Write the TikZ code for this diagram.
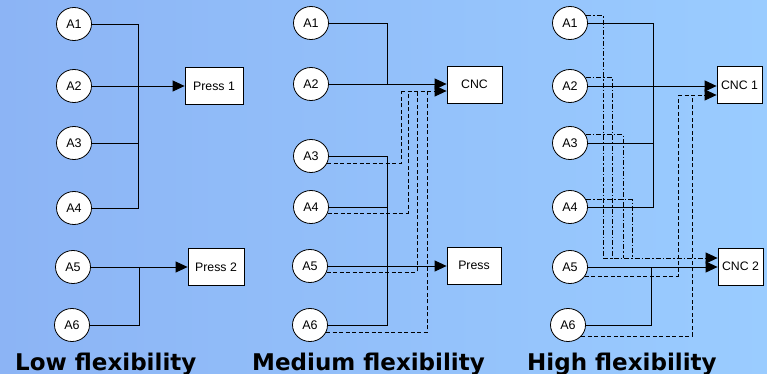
\documentclass[tikz,border=0pt]{standalone}
\usepackage{fontspec}
\usetikzlibrary{arrows.meta,calc,shapes.geometric}
\newfontfamily\labelfont{Liberation Sans}
\newfontfamily\headfont{DejaVu Sans}
\begin{document}
\begin{tikzpicture}[x=1pt,y=-1pt,
  part/.style={ellipse,draw,line width=0.8pt,fill=white,minimum width=35pt,minimum height=33pt,inner sep=0pt,font=\labelfont\fontsize{12.5}{14}\selectfont},
  machine/.style={rectangle,draw,line width=0.8pt,fill=white,minimum height=37pt,inner sep=1pt,font=\labelfont\fontsize{12.3}{14}\selectfont},
  tip/.style={-{Triangle[length=12pt,width=11pt]}},
  link/.style={line width=0.9pt},
  feed/.style={line width=0.9pt,tip},
  alt/.style={line width=0.9pt,dash pattern=on 4pt off 2.5pt},
  altdot/.style={line width=0.9pt,dash pattern=on 5pt off 2pt on 1.5pt off 2pt},
  title/.style={anchor=base west,inner sep=0pt,font=\headfont\bfseries\fontsize{23}{26}\selectfont}]
\useasboundingbox (0,0) rectangle (767,374);
\shade[left color={rgb,255:red,140;green,180;blue,245},right color={rgb,255:red,154;green,204;blue,255}] (0,0) rectangle (767,374);

% ---------- low flexibility ----------
\node[part] (l1) at (74,24) {A1};
\node[part] (l2) at (74,86) {A2};
\node[part] (l3) at (74,143) {A3};
\node[part] (l4) at (74,208) {A4};
\node[part] (l5) at (73,267) {A5};
\node[part] (l6) at (72,325) {A6};
\node[machine,minimum width=58pt] (p1) at (214,86) {Press 1};
\node[machine,minimum width=56pt] (p2) at (216,267) {Press 2};
\coordinate (lj1) at (138,86);
\coordinate (lj2) at (139,267);
\draw[link] (l1.east) -| (lj1);
\draw[link] (l3.east) -| (lj1);
\draw[link] (l4.east) -| (lj1);
\draw[feed] (l2.east) -- (l2.east -| p1.west);
\draw[link] (l6.east) -| (lj2);
\draw[feed] (l5.east) -- (l5.east -| p2.west);

% ---------- medium flexibility ----------
\node[part] (m1) at (311,23) {A1};
\node[part] (m2) at (311,84) {A2};
\node[part] (m3) at (311,156) {A3};
\node[part] (m4) at (311,207) {A4};
\node[part] (m5) at (310,266) {A5};
\node[part] (m6) at (310,325) {A6};
\node[machine,minimum width=55pt] (cnc) at (474.5,84.5) {CNC};
\node[machine,minimum width=54pt] (pr) at (474,265.5) {Press};
\coordinate (mj1) at (387,84);
\coordinate (mj2) at (387,266);
\draw[link] (m1.east) -| (mj1);
\draw[feed] (m2.east) -- (m2.east -| cnc.west);
\draw[link] (m3.east) -| (mj2);
\draw[link] (m4.east) -| (mj2);
\draw[link] (m6.east) -| (mj2);
\draw[feed] (m5.east) -- (m5.east -| pr.west);
\coordinate (md3) at (401,91);
\coordinate (md4) at (408,91);
\coordinate (md5) at (417,91);
\coordinate (md6) at (427,91);
\draw[alt] (m3.-25) -| (md3);
\draw[alt] (m4.-20) -| (md4);
\draw[alt] (m5.-20) -| (md5);
\draw[alt] (m6.-25) -| (md6);
\draw[alt,tip] (md3) -- (md3 -| cnc.west);

% ---------- high flexibility ----------
\node[part] (h1) at (570,23) {A1};
\node[part] (h2) at (570,86) {A2};
\node[part] (h3) at (570,143) {A3};
\node[part] (h4) at (570,207) {A4};
\node[part] (h5) at (570,267) {A5};
\node[part] (h6) at (568,325) {A6};
\node[machine,minimum width=45pt] (c1) at (739.5,85) {CNC 1};
\node[machine,minimum width=45pt] (c2) at (740.5,266.5) {CNC 2};
\coordinate (hj1) at (653,86);
\coordinate (hj2) at (651,267);
\draw[link] (h1.east) -| (hj1);
\draw[link] (h3.east) -| (hj1);
\draw[link] (h4.east) -| (hj1);
\draw[feed] (h2.east) -- (h2.east -| c1.west);
\draw[link] (h6.east) -| (hj2);
\draw[feed] (h5.east) -- (h5.east -| c2.west);
% dashed routes to CNC 1
\coordinate (hd5) at (678,95);
\coordinate (hd6) at (692,95);
\draw[alt] (h5.-32) -| (hd5);
\draw[alt] (h6.-40) -| (hd6);
\draw[alt,tip] (hd5) -- (hd5 -| c1.west);
% dash-dotted routes to CNC 2
\coordinate (hc1) at (603,258);
\coordinate (hc2) at (612,258);
\coordinate (hc3) at (623,258);
\coordinate (hc4) at (632,258);
\draw[altdot] (h1.25) -| (hc1);
\draw[altdot] (h2.28) -| (hc2);
\draw[altdot] (h3.28) -| (hc3);
\draw[altdot] (h4.25) -| (hc4);
\draw[altdot,tip] (hc1) -- (hc1 -| c2.west);

% ---------- captions ----------
\node[title] (t1) at (15,370) {Low flexibility};
\node[title] (t2) at (252,370) {Medium flexibility};
\node[title] (t3) at (527,370) {High flexibility};
\end{tikzpicture}
\end{document}
